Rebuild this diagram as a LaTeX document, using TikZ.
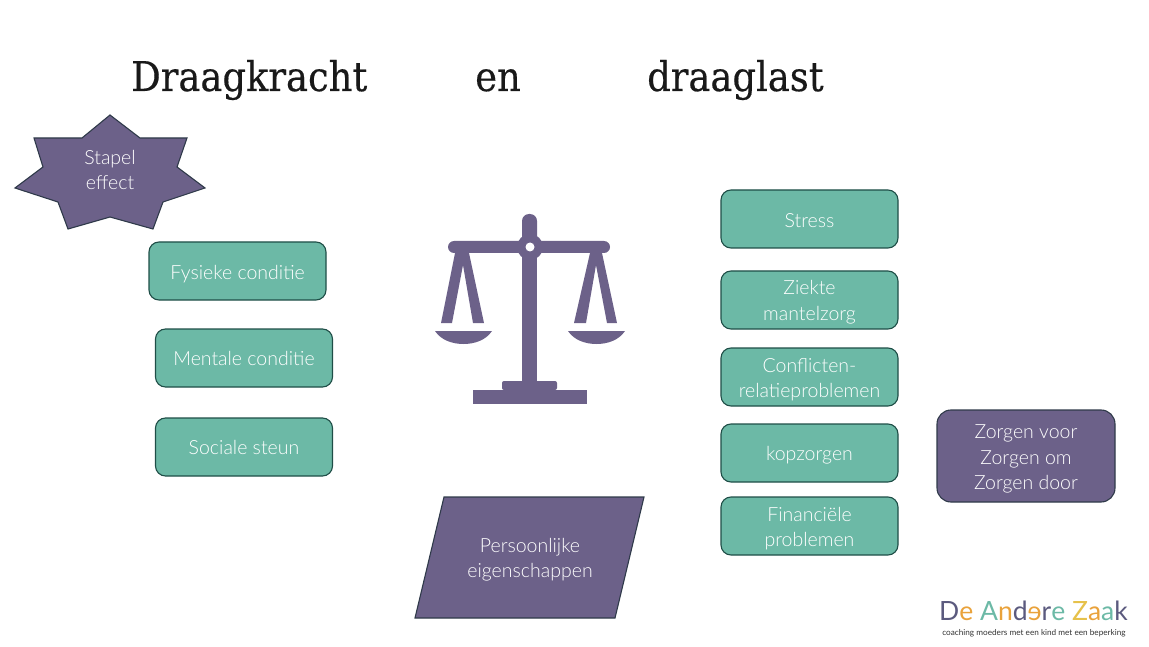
\documentclass[tikz,border=0pt]{standalone}
\usepackage{fontspec}
\usepackage{graphicx}
\setmainfont{Lato Light}
\newfontfamily\titelfont[FakeStretch=0.9,FakeBold=0.4]{DejaVu Serif}
\newfontfamily\logofont{Lato}
\newcommand{\zak}[1]{\rule{0pt}{#1}}
\definecolor{groen}{HTML}{6CB9A6}
\definecolor{groenrand}{HTML}{1F4E47}
\definecolor{paars}{HTML}{6C6189}
\definecolor{paarsrand}{HTML}{2F3A4A}
\definecolor{logoA}{HTML}{5B5A7E}
\definecolor{logoB}{HTML}{E9A23B}
\definecolor{logoC}{HTML}{6CB9A6}
\definecolor{logoD}{HTML}{E6C14A}
\tikzset{
  vak/.style={draw=groenrand,line width=1.1pt,fill=groen,rounded corners=10pt,minimum width=177pt,minimum height=58pt,inner sep=0pt,align=center,text=white,font=\fontsize{19.5}{25.5}\selectfont},
  titel/.style={anchor=base west,inner sep=0pt,text=black!90,font=\titelfont\fontsize{41}{50}\selectfont},
  paarsvlak/.style={draw=paarsrand,line width=1.1pt,fill=paars},
  tekst/.style={align=center,text=white,inner sep=0pt,font=\fontsize{19.5}{25.5}\selectfont},
  weegschaal/.style={fill=paars,draw=none}
}
\begin{document}
\begin{tikzpicture}[x=1pt,y=-1pt]
\useasboundingbox (0,0) rectangle (1149,647);
% titel
\node [titel] (t1) at (131,91) {Draagkracht};
\node [titel] (t2) at (475,91) {en};
\node [titel] (t3) at (647,91) {draaglast};
% ster
\draw [paarsvlak] (110,115) -- (140,138) -- (187,138) -- (177,167) -- (205,188) -- (163,202) -- (153,229) -- (110,217) -- (68,229) -- (58,202) -- (15,188) -- (43,167) -- (34,138) -- (82,138) -- cycle;
\node [tekst] (stapel) at (110,170) {Stapel\\effect};
% draagkracht
\node [vak] (fysiek) at (237.5,271) {\zak{20pt}Fysieke conditie};
\node [vak] (mentaal) at (244,358) {Mentale conditie};
\node [vak] (sociaal) at (244,447) {Sociale steun};
% draaglast
\node [vak] (stress) at (809.5,219) {\zak{17pt}Stress};
\node [vak] (ziekte) at (809.5,300) {\zak{19pt}Ziekte\\mantelzorg};
\node [vak] (conflict) at (809.5,377) {\zak{19pt}Conflicten-\\relatieproblemen};
\node [vak] (kop) at (809.5,453) {\zak{18pt}kopzorgen};
\node [vak] (geld) at (809.5,526) {\zak{19pt}Financiële\\problemen};
\node [vak,fill=paars,draw=paarsrand,rounded corners=14pt,minimum width=178pt,minimum height=92pt] (zorgen) at (1026,456) {\zak{20pt}Zorgen voor\\Zorgen om\\Zorgen door};
% parallellogram
\draw [paarsvlak] (444,497) -- (644,497) -- (615,618) -- (415,618) -- cycle;
\node [tekst] (eigen) at (530,559.5) {Persoonlijke\\eigenschappen};
% weegschaal
\fill [weegschaal,rounded corners=6pt] (448,241) rectangle (610,253);
\fill [weegschaal,rounded corners=7pt] (522,214) rectangle (537,260);
\fill [weegschaal] (522,250) rectangle (537,385);
\fill [weegschaal] (530,247) circle (13);
\fill [white] (530,247) circle (4.5);
\fill [weegschaal] (455,253) -- (441,323) -- (452,323) -- (463,265) -- (473,323) -- (484,323) -- (469,253) -- cycle;
\fill [weegschaal] (590,253) -- (574,323) -- (586,323) -- (596,265) -- (607,323) -- (617,323) -- (602,253) -- cycle;
\fill [weegschaal] (435,331) -- (492,331) .. controls (486,340) and (475,344) .. (463.5,344) .. controls (452,344) and (441,340) .. (435,331) -- cycle;
\fill [weegschaal] (568,331) -- (625,331) .. controls (619,340) and (608,344) .. (596.5,344) .. controls (585,344) and (574,340) .. (568,331) -- cycle;
\fill [weegschaal,rounded corners=2pt] (502,390) -- (502,381) -- (557,381) -- (557,390) -- cycle;
\fill [weegschaal] (473,390) rectangle (587,404);
% logo
\node [inner sep=0pt,anchor=base,font=\logofont\fontsize{26.5}{30}\selectfont] (logo) at (1033.5,620) {\color{logoA}D\color{logoB}e {\color{logoC}A}\color{logoB}n\color{logoA}d\color{logoB}\scalebox{-1}[1]{e}\color{logoA}r\color{logoC}e {\color{logoD}Z}\color{logoB}a\color{logoC}a\color{logoA}k};
\node [inner sep=0pt,anchor=base,text=black!80,font=\logofont\fontsize{8.2}{10}\selectfont] (slogan) at (1034,635) {coaching moeders met een kind met een beperking};
\end{tikzpicture}
\end{document}
